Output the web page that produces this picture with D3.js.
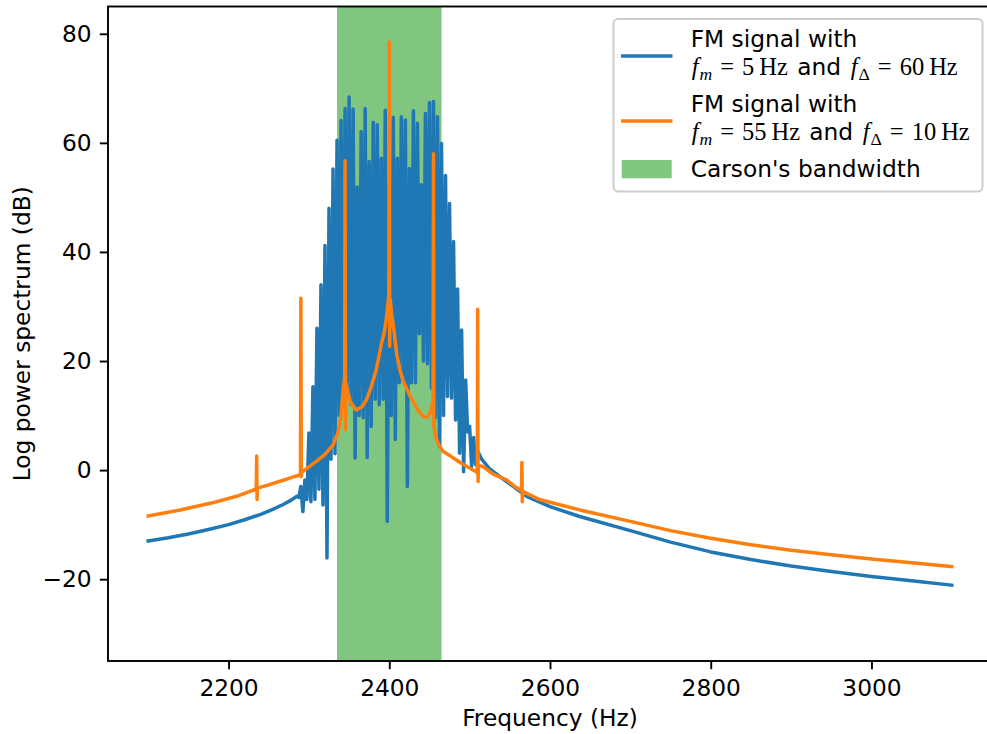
<!DOCTYPE html>
<html>
<head>
<meta charset="utf-8">
<script src="https://cdn.jsdelivr.net/npm/d3@7"></script>
<style>
  body { margin: 0; background: #fff; }
  text { font-family: "DejaVu Sans", sans-serif; fill: #000; }
  .math { font-family: "Liberation Serif", "DejaVu Serif", serif; }
</style>
</head>
<body>
<div id="chart"></div>
<script>
// carrier at 2400 Hz (dB)
var carsonBand = [2335, 2465];

// blue: fm = 5 Hz, fdelta = 60 Hz
var blueLeftFreq = [2100, 2125, 2150, 2175, 2200, 2220, 2240, 2255, 2268, 2278, 2285];
var blueLeftDb = [-13.0, -12.4, -11.7, -10.9, -10.0, -9.1, -8.1, -7.2, -6.3, -5.5, -4.8];

var blueSideFreq = [2290, 2295, 2300, 2305, 2310, 2315, 2320, 2325, 2330, 2335,
  2340, 2345, 2350, 2355, 2360, 2365, 2370, 2375, 2380, 2385,
  2390, 2395, 2400, 2405, 2410, 2415, 2420, 2425, 2430, 2435,
  2440, 2445, 2450, 2455, 2460, 2465, 2470, 2475, 2480, 2485,
  2490, 2495, 2500, 2505, 2510];
var blueSideDb = [-3.0, -1.8, 6.8, 15.3, 26.0, 34.0, 41.2, 48.0, 55.2, 60.5,
  64.1, 66.3, 68.4, 66.2, 51.9, 62.1, 66.3, 56.6, 63.8, 63.3,
  57.2, 66.0, 52.4, 64.7, 57.2, 64.8, 64.2, 55.3, 65.9, 63.6,
  52.3, 65.4, 67.4, 67.6, 64.8, 59.9, 54.0, 48.9, 41.9, 33.2,
  25.7, 16.5, 8.0, 6.0, 3.5];

var blueValleyFreq = [2287.5, 2292.5, 2297.5, 2302.5, 2307.5, 2312.5, 2317.5, 2322.5, 2327.5, 2332.5,
  2337.5, 2342.5, 2347.5, 2352.5, 2357.5, 2362.5, 2367.5, 2372.5, 2377.5, 2382.5,
  2387.5, 2392.5, 2397.5, 2402.5, 2407.5, 2412.5, 2417.5, 2422.5, 2427.5, 2432.5,
  2437.5, 2442.5, 2447.5, 2452.5, 2457.5, 2462.5, 2467.5, 2472.5, 2477.5, 2482.5,
  2487.5, 2492.5, 2497.5, 2502.5, 2507.5];
var blueValleyDb = [-5.0, -7.6, -5.4, -5.8, -5.4, -3.5, -6.4, -16.1, 2.0, 3.0,
  10.0, 12.0, 14.0, 12.0, 2.2, 10.0, 9.6, 2.3, 8.0, 13.0,
  12.0, 13.0, -9.4, 10.0, 5.6, 16.0, 16.5, -3.0, 16.0, 16.0,
  25.0, 20.0, 19.5, 15.0, 9.6, 4.3, 10.0, 13.5, 13.2, 9.2,
  3.1, -0.3, 7.0, 0.7, 1.0];

var blueRightFreq = [2515, 2525, 2546, 2571, 2600, 2637, 2700, 2750, 2800, 2850,
  2900, 2950, 3000, 3050, 3100];
var blueRightDb = [2.0, 0.2, -2.1, -4.8, -6.7, -8.5, -11.1, -13.2, -15.0, -16.4,
  -17.6, -18.6, -19.5, -20.3, -21.1];

// orange: fm = 55 Hz, fdelta = 10 Hz
var orangeFreq = [2100, 2140, 2180, 2210, 2230, 2234.5, 2235, 2235.5, 2236, 2250,
  2265, 2280, 2288, 2289.5, 2290, 2290.5, 2291, 2300, 2310, 2320,
  2330, 2336, 2340, 2343, 2344.5, 2345, 2345.5, 2346, 2348, 2352,
  2359, 2366, 2372, 2378, 2384, 2390, 2394, 2397, 2399, 2399.5,
  2400, 2400.5, 2401, 2403, 2406, 2409, 2413, 2417, 2425, 2434,
  2442, 2448, 2452, 2454.5, 2455, 2455.5, 2458, 2462, 2467, 2475,
  2483, 2490, 2500, 2508, 2509.5, 2510, 2510.5, 2511, 2516, 2530,
  2546, 2556, 2564.5, 2565, 2565.5, 2566, 2587, 2600, 2637, 2700,
  2750, 2800, 2850, 2900, 2950, 3000, 3050, 3100];
var orangeDb = [-8.4, -7.3, -6.0, -4.8, -3.7, -3.4, 2.6, -5.4, -3.3, -2.7,
  -2.0, -1.3, -0.9, -0.7, 31.5, -1.2, -0.4, 0.6, 1.7, 2.9,
  4.6, 6.8, 10.0, 15.0, 17.0, 56.7, 7.4, 16.0, 14.5, 12.4,
  11.0, 11.6, 13.0, 15.5, 18.5, 23.0, 25.5, 28.5, 31.5, 32.0,
  78.5, 22.7, 31.5, 28.5, 25.5, 21.5, 18.5, 16.5, 13.8, 11.4,
  9.8, 9.7, 11.0, 13.0, 58.0, 8.0, 6.0, 4.5, 3.4, 2.7,
  1.9, 1.2, 0.4, -0.3, -0.5, 29.5, -2.1, 0.8, 0.7, -0.8,
  -1.8, -3.0, -3.8, 1.4, -5.8, -3.9, -5.4, -5.9, -7.3, -9.4,
  -11.1, -12.5, -13.7, -14.7, -15.5, -16.3, -17.0, -17.7];

var xTicks = [2200, 2400, 2600, 2800, 3000];
var yTicks = [-20, 0, 20, 40, 60, 80];

var W = 987, H = 734;
var margin = {top: 6.5, right: -5, bottom: 73, left: 108};
var fs = 23.3;

var x = d3.scaleLinear().domain([2050, 3150]).range([margin.left, W - margin.right]);
var y = d3.scaleLinear().domain([-35, 85]).range([H - margin.bottom, margin.top]);

var svg = d3.select("#chart").append("svg")
    .attr("width", W)
    .attr("height", H);

svg.append("clipPath").attr("id", "plot")
  .append("rect")
    .attr("x", x.range()[0]).attr("y", y.range()[1])
    .attr("width", x.range()[1] - x.range()[0])
    .attr("height", y.range()[0] - y.range()[1]);

// Carson's bandwidth span
svg.append("rect")
    .attr("x", x(carsonBand[0]))
    .attr("y", y.range()[1])
    .attr("width", x(carsonBand[1]) - x(carsonBand[0]))
    .attr("height", y.range()[0] - y.range()[1])
    .attr("fill", "#2ca02c")
    .attr("fill-opacity", 0.6);

// blue spectrum: tail, sidebands + valleys, tail
var bluePts = d3.zip(blueLeftFreq, blueLeftDb)
  .concat(d3.zip(blueSideFreq, blueSideDb).concat(d3.zip(blueValleyFreq, blueValleyDb))
    .sort(function(a, b) { return a[0] - b[0]; }))
  .concat(d3.zip(blueRightFreq, blueRightDb));
var orangePts = d3.zip(orangeFreq, orangeDb);

var line = d3.line()
    .x(function(d) { return x(d[0]); })
    .y(function(d) { return y(d[1]); });

var g = svg.append("g").attr("clip-path", "url(#plot)");
g.append("path").datum(bluePts)
    .attr("d", line)
    .attr("fill", "none")
    .attr("stroke", "#1f77b4")
    .attr("stroke-width", 3.5)
    .attr("stroke-linejoin", "round")
    .attr("stroke-linecap", "square");
g.append("path").datum(orangePts)
    .attr("d", line)
    .attr("fill", "none")
    .attr("stroke", "#ff7f0e")
    .attr("stroke-width", 3.5)
    .attr("stroke-linejoin", "round")
    .attr("stroke-linecap", "square");

// axes
var xAxis = svg.append("g")
    .attr("transform", "translate(0," + y.range()[0] + ")")
    .call(d3.axisBottom(x).tickValues(xTicks).tickFormat(d3.format("d"))
      .tickSize(8.2).tickPadding(8.2).tickSizeOuter(0));
var yAxis = svg.append("g")
    .attr("transform", "translate(" + x.range()[0] + ",0)")
    .call(d3.axisLeft(y).tickValues(yTicks).tickSize(8.2).tickPadding(8.2).tickSizeOuter(0));
[xAxis, yAxis].forEach(function(a) {
  a.select(".domain").remove();
  a.selectAll("line").attr("stroke", "#000").attr("stroke-width", 1.9);
  a.selectAll("text").style("font-size", fs + "px").style("font-family", "DejaVu Sans");
});
xAxis.selectAll("text").attr("dy", "0.78em");

// frame
svg.append("rect")
    .attr("x", x.range()[0]).attr("y", y.range()[1])
    .attr("width", x.range()[1] - x.range()[0])
    .attr("height", y.range()[0] - y.range()[1])
    .attr("fill", "none")
    .attr("stroke", "#000")
    .attr("stroke-width", 1.9);

svg.append("text")
    .attr("x", (x.range()[0] + x.range()[1]) / 2)
    .attr("y", 726)
    .attr("text-anchor", "middle")
    .style("font-size", fs + "px")
    .text("Frequency (Hz)");
svg.append("text")
    .attr("transform", "translate(30," + (y.range()[0] + y.range()[1]) / 2 + ") rotate(-90)")
    .attr("text-anchor", "middle")
    .style("font-size", fs + "px")
    .text("Log power spectrum (dB)");

// legend
var lg = svg.append("g");
lg.append("rect")
    .attr("x", 613.5).attr("y", 19)
    .attr("width", 369).attr("height", 172.5)
    .attr("rx", 4.5)
    .attr("fill", "#fff").attr("fill-opacity", 0.8)
    .attr("stroke", "#cccccc").attr("stroke-width", 1.9);

var mfs = 24.5;
var sub = mfs * 0.72;

// f_sub = value Hz, as flowing tspans
function mathChunk(x0, yb, subTxt, subItalic, val) {
  var t = lg.append("text").attr("class", "math")
      .attr("x", x0).attr("y", yb)
      .style("font-size", mfs + "px");
  t.append("tspan").style("font-style", "italic").text("f");
  t.append("tspan").attr("dx", 1).attr("dy", 5).style("font-size", sub + "px")
      .style("font-style", subItalic ? "italic" : "normal").text(subTxt);
  t.append("tspan").attr("dx", 8).attr("dy", -5).text("=");
  t.append("tspan").attr("dx", 8).text(val);
  t.append("tspan").attr("dx", 5).text("Hz");
}
function entryText(yb, fm, fd, andX, fdX) {
  lg.append("text").attr("x", 690.7).attr("y", yb).style("font-size", fs + "px").text("FM signal with");
  mathChunk(691.7, yb + 28, "m", true, fm);
  lg.append("text").attr("x", andX).attr("y", yb + 28).style("font-size", fs + "px").text("and");
  mathChunk(fdX, yb + 28, "\u0394", false, fd);
}

lg.append("line").attr("x1", 621).attr("x2", 672.5).attr("y1", 56).attr("y2", 56)
    .attr("stroke", "#1f77b4").attr("stroke-width", 3.5);
entryText(47, "5", "60", 797.3, 850.7);

lg.append("line").attr("x1", 621).attr("x2", 672.5).attr("y1", 121).attr("y2", 121)
    .attr("stroke", "#ff7f0e").attr("stroke-width", 3.5);
entryText(112, "55", "10", 809.3, 862.7);

lg.append("rect").attr("x", 621.7).attr("y", 160).attr("width", 50).attr("height", 18.3)
    .attr("fill", "#2ca02c").attr("fill-opacity", 0.6);
lg.append("text").attr("x", 690.7).attr("y", 177).style("font-size", fs + "px").text("Carson's bandwidth");
</script>
</body>
</html>
